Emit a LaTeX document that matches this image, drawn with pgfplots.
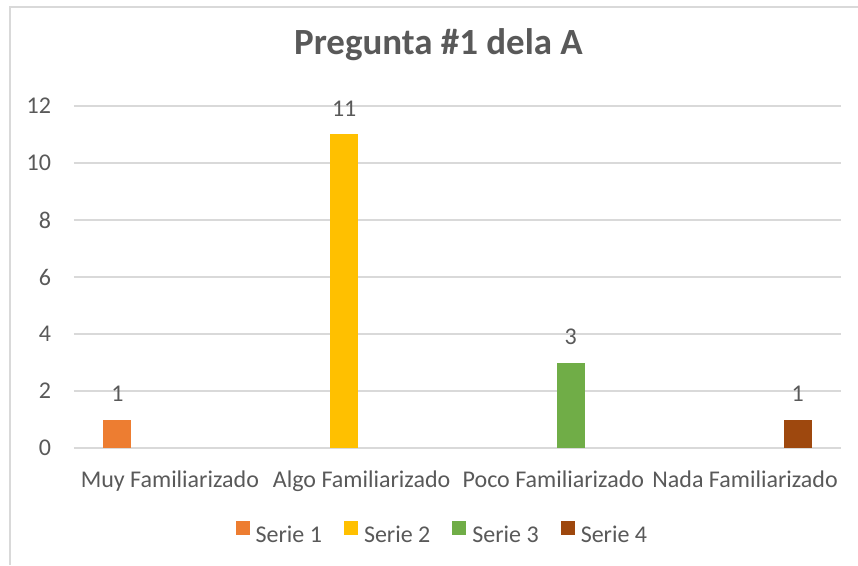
\documentclass[border=0pt]{standalone}
\usepackage{fontspec}
\setmainfont{Carlito}
\usepackage{pgfplots}
\pgfplotsset{compat=1.18}
\definecolor{txt}{HTML}{595959}
\definecolor{gridc}{HTML}{D9D9D9}
\definecolor{s1}{HTML}{ED7D31}
\definecolor{s2}{HTML}{FFC000}
\definecolor{s3}{HTML}{70AD47}
\definecolor{s4}{HTML}{9E480E}
\begin{document}
\begin{tikzpicture}[x=0.75pt,y=0.75pt]
\useasboundingbox (0,0) rectangle (858,565);
\draw[color=gridc, line width=1.5pt] (9.5,0) -- (9.5,557.5) -- (858,557.5);
\begin{axis}[
  at={(55.5pt,87.75pt)}, anchor=south west,
  scale only axis, width=575.25pt, height=256.5pt,
  xmin=-0.5, xmax=3.5, ymin=0, ymax=12,
  ytick={0,2,4,6,8,10,12},
  xtick={0,1,2,3},
  xticklabels={Muy Familiarizado, Algo Familiarizado, Poco Familiarizado, Nada Familiarizado},
  axis line style={draw=none},
  major tick length=0pt,
  ymajorgrids, grid style={color=gridc, line width=0.9pt},
  /pgf/number format/assume math mode=true,
  tick label style={font=\fontsize{18}{20}\selectfont, color=txt, inner sep=0pt},
  yticklabel style={anchor=east, xshift=-17pt},
  xticklabel style={anchor=north, yshift=-17pt},
  title={Pregunta \#1 dela A},
  title style={at={(0.4752,1.1266)}, anchor=base, font=\bfseries\fontsize{27.7}{30}\selectfont, color=txt},
  ybar, bar width=0.146,
  nodes near coords,
  every node near coord/.append style={font=\fontsize{18}{20}\selectfont, color=txt, inner sep=0pt, anchor=south, yshift=13pt},
  legend style={at={(0.479,-0.2485)}, anchor=center, draw=none, legend columns=4,
    font=\fontsize{18}{20}\selectfont, text=txt,
    nodes={inner sep=0pt},
    /tikz/every odd column/.append style={column sep=4.5pt},
    /tikz/every even column/.append style={column sep=16.5pt}},
  legend image code/.code={\fill[#1] (0pt,0pt) rectangle (10.5pt,10.5pt);},
]
\addplot[fill=s1, draw=none, bar shift=-0.274] coordinates {(0,1)};
\addplot[fill=s2, draw=none, bar shift=-0.091] coordinates {(1,11)};
\addplot[fill=s3, draw=none, bar shift=0.091] coordinates {(2,3)};
\addplot[fill=s4, draw=none, bar shift=0.274] coordinates {(3,1)};
\legend{Serie 1, Serie 2, Serie 3, Serie 4}
\end{axis}
\end{tikzpicture}
\end{document}
